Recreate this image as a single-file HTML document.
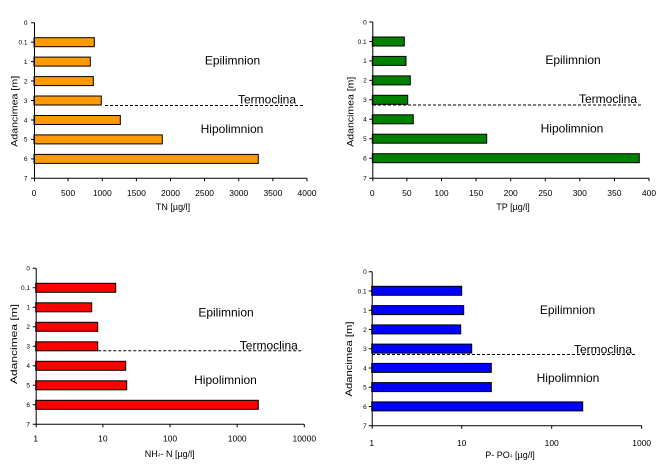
<!DOCTYPE html>
<html><head><meta charset="utf-8"><style>
html,body{margin:0;padding:0;background:#fff;}
svg{display:block;font-family:"Liberation Sans",Arial,sans-serif;}
.yt{font-size:6.5px;text-anchor:end;fill:#000;}
.xt{font-size:8.5px;text-anchor:middle;fill:#000;}
.an{font-size:12px;text-anchor:middle;fill:#000;}
.ti{font-size:9px;text-anchor:middle;fill:#000;}
.ax{stroke:#000;stroke-width:1;fill:none;}
.dl{stroke:#000;stroke-width:1;stroke-dasharray:3,2;fill:none;}
</style></head><body>
<svg width="665" height="470" viewBox="0 0 665 470" xmlns="http://www.w3.org/2000/svg">
<!-- Panel 1 TN -->
<g>
<g fill="#FF9900" stroke="#000" stroke-width="1">
<rect x="34" y="37.7" width="60.3" height="9"/>
<rect x="34" y="57.1" width="56.3" height="9"/>
<rect x="34" y="76.6" width="59.3" height="9"/>
<rect x="34" y="96" width="67.3" height="9"/>
<rect x="34" y="115.5" width="86.3" height="9"/>
<rect x="34" y="134.9" width="128.3" height="9"/>
<rect x="34" y="154.4" width="224.3" height="9"/>
</g>
<path class="ax" d="M34.5 22.7V178.3H307 M31 22.7H34.5 M31 42.15H34.5 M31 61.6H34.5 M31 81.05H34.5 M31 100.5H34.5 M31 119.95H34.5 M31 139.4H34.5 M31 158.85H34.5 M31 178.3H34.5
M34.5 178.3v3 M68.1 178.3v3 M102.3 178.3v3 M136.4 178.3v3 M170.5 178.3v3 M204.6 178.3v3 M238.75 178.3v3 M272.9 178.3v3 M307 178.3v3"/>
<line class="dl" x1="105" y1="105.5" x2="303" y2="105.5"/>
<g class="yt">
<text x="27.5" y="25">0</text><text x="27.5" y="44.5">0.1</text><text x="27.5" y="64">1</text><text x="27.5" y="83.4">2</text><text x="27.5" y="102.8">3</text><text x="27.5" y="122.3">4</text><text x="27.5" y="141.7">5</text><text x="27.5" y="161.2">6</text><text x="27.5" y="180.6">7</text>
</g>
<g class="xt">
<text x="34" y="196">0</text><text x="68.1" y="196">500</text><text x="102.3" y="196">1000</text><text x="136.4" y="196">1500</text><text x="170.5" y="196">2000</text><text x="204.6" y="196">2500</text><text x="238.75" y="196">3000</text><text x="272.9" y="196">3500</text><text x="307" y="196">4000</text>
</g>
<text class="an" x="232.5" y="64.5">Epilimnion</text>
<text class="an" x="267" y="103.5">Termoclina</text>
<text class="an" x="232" y="133">Hipolimnion</text>
<text class="ti" x="173" y="210">TN  [µg/l]</text>
<text class="ti" transform="translate(17.5,111.3) rotate(-90)" textLength="71" lengthAdjust="spacingAndGlyphs">Adancimea [m]</text>
</g>

<!-- Panel 2 TP -->
<g>
<g fill="#008000" stroke="#000" stroke-width="1">
<rect x="372.3" y="37" width="32" height="9"/>
<rect x="372.3" y="56.4" width="33.7" height="9"/>
<rect x="372.3" y="75.9" width="38" height="9"/>
<rect x="372.3" y="95.3" width="35.4" height="9"/>
<rect x="372.3" y="114.8" width="41" height="9"/>
<rect x="372.3" y="134.2" width="114.4" height="9"/>
<rect x="372.3" y="153.7" width="267" height="9"/>
</g>
<path class="ax" d="M372.8 22V178.3H649 M369.3 22H372.8 M369.3 41.5H372.8 M369.3 60.9H372.8 M369.3 80.4H372.8 M369.3 99.8H372.8 M369.3 119.3H372.8 M369.3 138.7H372.8 M369.3 158.2H372.8 M369.3 178.3H372.8
M372.8 178.3v3 M406.9 178.3v3 M441.5 178.3v3 M476.1 178.3v3 M510.7 178.3v3 M545.3 178.3v3 M579.8 178.3v3 M614.4 178.3v3 M649 178.3v3"/>
<line class="dl" x1="373" y1="105" x2="642" y2="105"/>
<g class="yt">
<text x="366.7" y="24.3">0</text><text x="366.7" y="43.8">0.1</text><text x="366.7" y="63.2">1</text><text x="366.7" y="82.7">2</text><text x="366.7" y="102.1">3</text><text x="366.7" y="121.6">4</text><text x="366.7" y="141">5</text><text x="366.7" y="160.5">6</text><text x="366.7" y="180.6">7</text>
</g>
<g class="xt">
<text x="372.3" y="196">0</text><text x="406.9" y="196">50</text><text x="441.5" y="196">100</text><text x="476.1" y="196">150</text><text x="510.7" y="196">200</text><text x="545.3" y="196">250</text><text x="579.8" y="196">300</text><text x="614.4" y="196">350</text><text x="649" y="196">400</text>
</g>
<text class="an" x="573" y="64">Epilimnion</text>
<text class="an" x="608" y="103">Termoclina</text>
<text class="an" x="572" y="132.5">Hipolimnion</text>
<text class="ti" x="513" y="210">TP  [µg/l]</text>
<text class="ti" transform="translate(353.5,111.7) rotate(-90)" textLength="70" lengthAdjust="spacingAndGlyphs">Adancimea [m]</text>
</g>

<!-- Panel 3 NH4-N -->
<g>
<g fill="#FF0000" stroke="#000" stroke-width="1">
<rect x="35.7" y="283.3" width="80" height="9"/>
<rect x="35.7" y="302.8" width="56" height="9"/>
<rect x="35.7" y="322.3" width="62" height="9"/>
<rect x="35.7" y="341.8" width="62" height="9"/>
<rect x="35.7" y="361.3" width="90" height="9"/>
<rect x="35.7" y="380.8" width="91" height="9"/>
<rect x="35.7" y="400.3" width="222.6" height="9"/>
</g>
<path class="ax" d="M36.2 268.3V424.3H304.3 M32.7 268.3H36.2 M32.7 287.8H36.2 M32.7 307.3H36.2 M32.7 326.8H36.2 M32.7 346.3H36.2 M32.7 365.8H36.2 M32.7 385.3H36.2 M32.7 404.8H36.2 M32.7 424.3H36.2
M36.2 424.3v3 M102.9 424.3v3 M170 424.3v3 M237.2 424.3v3 M304.3 424.3v3"/>
<line class="dl" x1="98.3" y1="350.8" x2="302" y2="350.8"/>
<g class="yt">
<text x="30" y="270.6">0</text><text x="30" y="290.1">0.1</text><text x="30" y="309.6">1</text><text x="30" y="329.1">2</text><text x="30" y="348.6">3</text><text x="30" y="368.1">4</text><text x="30" y="387.6">5</text><text x="30" y="407.1">6</text><text x="30" y="426.6">7</text>
</g>
<g class="xt">
<text x="35.7" y="441.5">1</text><text x="102.9" y="441.5">10</text><text x="170" y="441.5">100</text><text x="237.2" y="441.5">1000</text><text x="304.3" y="441.5">10000</text>
</g>
<text class="an" x="226" y="316.5">Epilimnion</text>
<text class="an" x="268.8" y="349.5">Termoclina</text>
<text class="an" x="225.5" y="383.8">Hipolimnion</text>
<text class="ti" x="169.7" y="457">NH<tspan font-size="5" fill="#666">4</tspan>- N [µg/l]</text>
<text class="ti" transform="translate(16.8,344) rotate(-90)" textLength="80" lengthAdjust="spacingAndGlyphs">Adancimea [m]</text>
</g>

<!-- Panel 4 P-PO4 -->
<g>
<g fill="#0000FF" stroke="#000" stroke-width="1">
<rect x="371.7" y="286.3" width="90" height="9"/>
<rect x="371.7" y="305.6" width="92" height="9"/>
<rect x="371.7" y="324.9" width="89" height="9"/>
<rect x="371.7" y="344.1" width="100" height="9"/>
<rect x="371.7" y="363.4" width="119.6" height="9"/>
<rect x="371.7" y="382.6" width="119.6" height="9"/>
<rect x="371.7" y="401.9" width="211" height="9"/>
</g>
<path class="ax" d="M372.2 271.7V425.7H641.7 M368.7 271.7H372.2 M368.7 290.95H372.2 M368.7 310.2H372.2 M368.7 329.45H372.2 M368.7 348.7H372.2 M368.7 367.95H372.2 M368.7 387.2H372.2 M368.7 406.45H372.2 M368.7 425.7H372.2
M372.2 425.7v3 M461.7 425.7v3 M551.7 425.7v3 M641.7 425.7v3"/>
<line class="dl" x1="372" y1="354.5" x2="637" y2="354.5"/>
<g class="yt">
<text x="366.7" y="274">0</text><text x="366.7" y="293.3">0.1</text><text x="366.7" y="312.5">1</text><text x="366.7" y="331.8">2</text><text x="366.7" y="351">3</text><text x="366.7" y="370.3">4</text><text x="366.7" y="389.5">5</text><text x="366.7" y="408.8">6</text><text x="366.7" y="428">7</text>
</g>
<g class="xt">
<text x="371.7" y="446">1</text><text x="461.7" y="446">10</text><text x="551.7" y="446">100</text><text x="641.7" y="446">1000</text>
</g>
<text class="an" x="567.5" y="313.8">Epilimnion</text>
<text class="an" x="603" y="353.5">Termoclina</text>
<text class="an" x="568" y="381.8">Hipolimnion</text>
<text class="ti" x="510" y="458">P- PO<tspan font-size="5" fill="#666">4</tspan>   [µg/l]</text>
<text class="ti" transform="translate(351.8,359) rotate(-90)" textLength="75" lengthAdjust="spacingAndGlyphs">Adancimea [m]</text>
</g>
</svg>
</body></html>
